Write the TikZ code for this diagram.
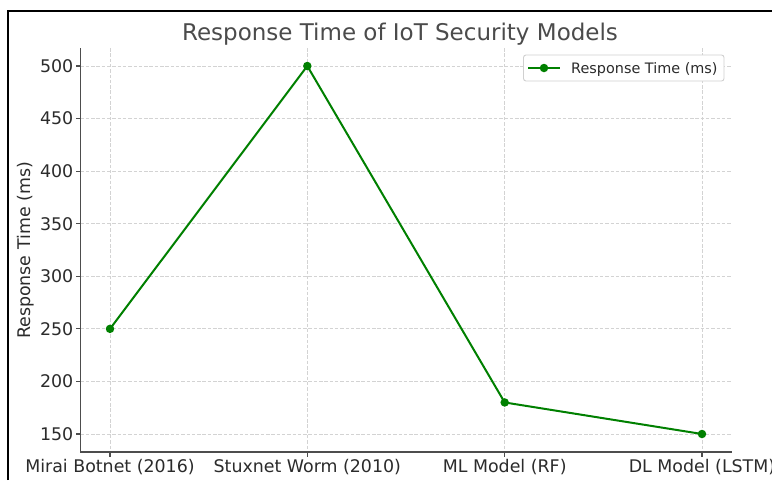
\documentclass[tikz,border=0pt]{standalone}
\usepackage{fontspec}
\setmainfont{DejaVu Sans}
\definecolor{mplgreen}{HTML}{008000}
\definecolor{gridgray}{HTML}{D3D3D3}
\definecolor{spinegray}{HTML}{4D4D4D}
\definecolor{txtgray}{HTML}{2B2B2B}
\definecolor{leggray}{HTML}{D0D0D0}
\begin{document}
\begin{tikzpicture}[x=1pt,y=-1pt,
  declare function={ypx(\v)=434-1.05143*(\v-150);},
  gridline/.style={draw=gridgray, line width=0.8pt, dash pattern=on 3.5pt off 1.8pt},
  spine/.style={draw=spinegray, line width=1.3pt},
  tickmark/.style={draw=spinegray, line width=1.1pt},
  ticklab/.style={text=txtgray, font=\fontsize{17.4}{19}\selectfont, inner sep=0pt},
  dataline/.style={draw=mplgreen, line width=2pt, line join=round},
  marker/.style={circle, fill=mplgreen, inner sep=0pt, minimum size=8.5pt},
  legbox/.style={draw=leggray, line width=0.9pt, fill=white, rounded corners=2.5pt, minimum width=200.5pt, minimum height=26pt, inner sep=0pt},
]
\useasboundingbox (0,0) rectangle (772,480);
\fill[white] (0,0) rectangle (772,480);
% outer frame
\draw[black, line width=1.4pt] (8,480) -- (8,11) -- (772,11);
% grid
\foreach \v in {150,200,...,500}{
  \draw[gridline] (80.5,{ypx(\v)}) -- (731.6,{ypx(\v)});
}
\foreach \x in {110,307.3,504.7,702}{
  \draw[gridline] (\x,48) -- (\x,452);
}
% spines
\coordinate (ytop) at (80.5,48);
\coordinate (origin) at (80.5,452);
\coordinate (xend) at (731.6,452);
\draw[spine] (ytop) -- (origin) -- (xend);
% y ticks and labels
\foreach \v in {150,200,...,500}{
  \draw[tickmark] (80.5,{ypx(\v)}) -- (75.5,{ypx(\v)});
  \node[ticklab, anchor=east] (yl\v) at (73.5,{ypx(\v)}) {\v};
}
% x ticks and labels
\foreach \x/\n/\t in {110/xa/Mirai Botnet (2016),307.3/xb/Stuxnet Worm (2010),504.7/xc/ML Model (RF),702/xd/DL Model (LSTM)}{
  \draw[tickmark] (\x,452) -- (\x,457);
  \node[ticklab, anchor=base] (\n) at (\x,472.5) {\t};
}
% axis label
\node[ticklab, rotate=90] (ylabel) at (26,250.5) {Response Time (ms)};
% title
\node[text=txtgray!85!white, font=\fontsize{23}{25}\selectfont, inner sep=0pt, anchor=base] (title) at (400,40) {Response Time of IoT Security Models};
% data
\coordinate (c0) at (110,{ypx(250)});
\coordinate (c1) at (307.3,{ypx(500)});
\coordinate (c2) at (504.7,{ypx(180)});
\coordinate (c3) at (702,{ypx(150)});
\draw[dataline] (c0) -- (c1) -- (c2) -- (c3);
\node[marker] (p0) at (c0) {};
\node[marker] (p1) at (c1) {};
\node[marker] (p2) at (c2) {};
\node[marker] (p3) at (c3) {};
% legend
\node[legbox] (legend) at (623.75,68) {};
\coordinate (la) at (528,68);
\coordinate (lb) at (560,68);
\draw[dataline] (la) -- (lb);
\node[marker] (lm) at (544,68) {};
\node[text=txtgray, font=\fontsize{14.4}{16}\selectfont, inner sep=0pt, anchor=base west] (legtext) at (571,73.3) {Response Time (ms)};
\end{tikzpicture}
\end{document}
